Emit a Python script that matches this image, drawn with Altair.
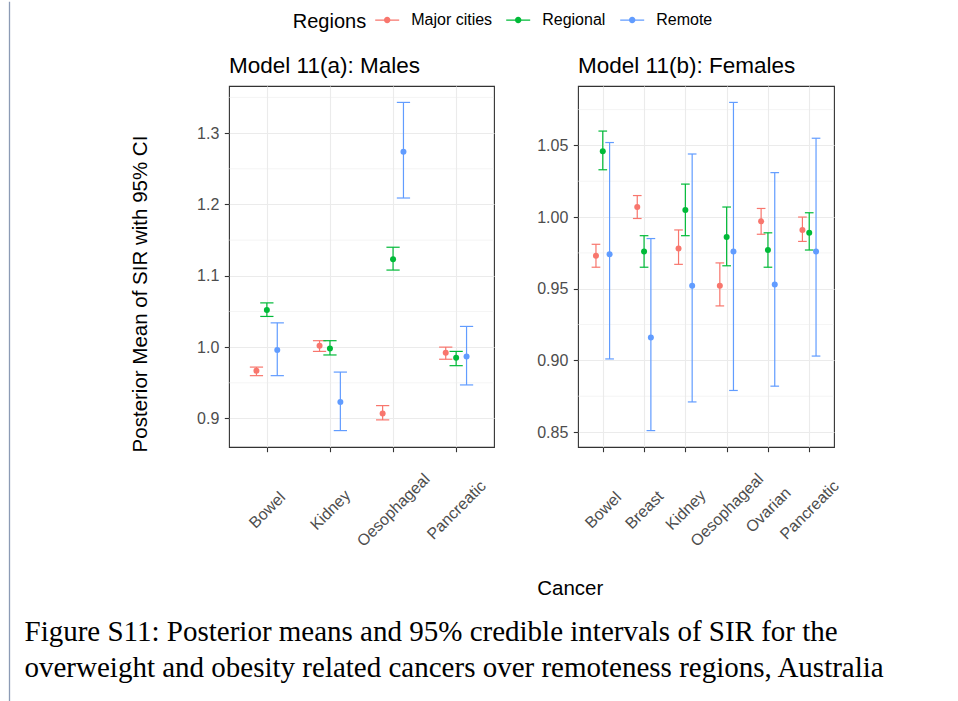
import altair as alt
import pandas as pd

# ---------------- data ----------------
regions = ["Major cities", "Regional", "Remote"]
region_colors = ["#F8766D", "#00BA38", "#619CFF"]

male_cancers = ["Bowel", "Kidney", "Oesophageal", "Pancreatic"]
male_mean = {
    "Major cities": [0.967, 1.002, 0.907, 0.992],
    "Regional": [1.052, 0.998, 1.123, 0.985],
    "Remote": [0.996, 0.923, 1.274, 0.987],
}
male_lower = {
    "Major cities": [0.960, 0.994, 0.898, 0.983],
    "Regional": [1.043, 0.989, 1.108, 0.974],
    "Remote": [0.960, 0.883, 1.209, 0.947],
}
male_upper = {
    "Major cities": [0.972, 1.009, 0.918, 1.000],
    "Regional": [1.062, 1.009, 1.140, 0.994],
    "Remote": [1.034, 0.965, 1.343, 1.029],
}

female_cancers = ["Bowel", "Breast", "Kidney", "Oesophageal", "Ovarian", "Pancreatic"]
female_mean = {
    "Major cities": [0.973, 1.007, 0.978, 0.952, 0.997, 0.991],
    "Regional": [1.046, 0.976, 1.005, 0.986, 0.977, 0.989],
    "Remote": [0.974, 0.916, 0.952, 0.976, 0.953, 0.976],
}
female_lower = {
    "Major cities": [0.965, 0.999, 0.967, 0.938, 0.988, 0.983],
    "Regional": [1.033, 0.965, 0.987, 0.966, 0.965, 0.977],
    "Remote": [0.901, 0.851, 0.871, 0.879, 0.882, 0.903],
}
female_upper = {
    "Major cities": [0.981, 1.015, 0.991, 0.968, 1.006, 1.000],
    "Regional": [1.060, 0.987, 1.023, 1.007, 0.989, 1.003],
    "Remote": [1.052, 0.985, 1.044, 1.080, 1.031, 1.055],
}

male_ticks = [0.9, 1.0, 1.1, 1.2, 1.3]
male_minor = [0.95, 1.05, 1.15, 1.25, 1.35]
female_ticks = [0.85, 0.90, 0.95, 1.00, 1.05]
female_minor = [0.875, 0.925, 0.975, 1.025, 1.075]

panel_titles = ["Model 11(a): Males", "Model 11(b): Females"]
legend_title = "Regions"
caption_lines = [
    "Figure S11: Posterior means and 95% credible intervals of SIR for the",
    "overweight and obesity related cancers over remoteness regions, Australia",
]

# ---------------- style ----------------
FONT = "Liberation Sans"
SERIF = "Liberation Serif"
DODGE = 0.165
CAP = 0.105
LEFT_X = 229.5
TOP_Y = 85
PANEL_H = 361

LEGEND_PATH = ("M-1,-0.06L1,-0.06L1,0.06L-1,0.06Z "
               "M-0.27,0A0.27,0.27,0,1,1,0.27,0A0.27,0.27,0,1,1,-0.27,0Z")


def make_df(cancers, mean, lower, upper):
    rows = []
    for ri, r in enumerate(regions):
        for ci, c in enumerate(cancers):
            rows.append({"cancer": c, "idx": ci + 1, "ri": ri, "region": r,
                         "mean": mean[r][ci], "lo": lower[r][ci], "hi": upper[r][ci]})
    return pd.DataFrame(rows)


color_enc = alt.Color(
    "region:N",
    scale=alt.Scale(domain=regions, range=region_colors),
    legend=alt.Legend(
        orient="none", legendX=375.7 - LEFT_X, legendY=-77.9, direction="horizontal",
        title=None,
        labelFont=FONT, labelFontSize=16, labelColor="black", labelOffset=12,
        symbolType=LEGEND_PATH, symbolSize=576, symbolStrokeWidth=0,
        symbolOpacity=1, columnPadding=14,
    ),
)


def text_layer(txt, x, y, font, size, align="left"):
    return alt.Chart(pd.DataFrame({"t": [txt]})).mark_text(
        align=align, baseline="alphabetic", font=font, fontSize=size, color="black",
    ).encode(text="t:N", x=alt.value(x), y=alt.value(y))


def panel(df, cancers, width, title, ticks, minor, fmt, left=False):
    n = len(cancers)
    lo, hi = df["lo"].min(), df["hi"].max()
    pad = 0.05 * (hi - lo)
    yscale = alt.Scale(domain=[lo - pad, hi + pad], nice=False, zero=False)
    xscale = alt.Scale(domain=[0.4, n + 0.6], nice=False, zero=False)
    label_expr = "[" + ",".join(f"'{c}'" for c in cancers) + "][datum.value - 1]"

    xaxis_kw = dict(
        values=list(range(1, n + 1)), labelExpr=label_expr, labelAngle=-45,
        labelAlign="center", labelBaseline="middle", labelPadding=58,
        labelFont=FONT, labelFontSize=16, labelColor="#4D4D4D",
        labelOverlap=False, labelFlush=False, labelBound=False,
        tickColor="#333333", tickSize=4.7, tickWidth=1.1, domain=False,
        grid=True, gridColor="#EBEBEB", gridWidth=1.1,
    )
    yaxis_kw = dict(
        values=ticks, format=fmt, labelPadding=5.5,
        labelFont=FONT, labelFontSize=16, labelColor="#4D4D4D",
        labelOverlap=False, labelFlush=False,
        tickColor="#333333", tickSize=4.7, tickWidth=1.1, domain=False,
        grid=True, gridColor="#EBEBEB", gridWidth=1.1,
    )
    if left:
        xaxis = alt.Axis(title="Cancer", titleFont=FONT, titleFontSize=20.5,
                         titleFontWeight="normal", titleColor="black",
                         titleX=570.3 - LEFT_X, titleY=593.3 - (TOP_Y + PANEL_H),
                         titleAlign="center", titleBaseline="alphabetic",
                         titleAngle=0, **xaxis_kw)
        yaxis = alt.Axis(title="Posterior Mean of SIR with 95% CI", titleFont=FONT,
                         titleFontSize=20.5, titleFontWeight="normal",
                         titleColor="black", titleAngle=270, titleAlign="center",
                         titleBaseline="alphabetic", titleX=-82.8,
                         titleY=292.5 - TOP_Y, **yaxis_kw)
    else:
        xaxis = alt.Axis(title=None, **xaxis_kw)
        yaxis = alt.Axis(title=None, **yaxis_kw)

    base = alt.Chart(df).transform_calculate(
        xp=f"datum.idx + (datum.ri - 1) * {DODGE}",
        xl=f"datum.idx + (datum.ri - 1) * {DODGE} - {CAP}",
        xr=f"datum.idx + (datum.ri - 1) * {DODGE} + {CAP}",
    )

    minor_grid = alt.Chart(pd.DataFrame({"v": minor})).mark_rule(
        color="#EBEBEB", strokeWidth=0.55
    ).encode(y=alt.Y("v:Q", scale=yscale, axis=yaxis))

    bars = base.mark_rule(strokeWidth=1.2).encode(
        x=alt.X("xp:Q", scale=xscale, axis=xaxis),
        y=alt.Y("lo:Q", scale=yscale, axis=yaxis),
        y2="hi:Q",
        color=color_enc,
    )
    cap_lo = base.mark_rule(strokeWidth=1.2).encode(
        x=alt.X("xl:Q", scale=xscale, axis=xaxis), x2="xr:Q",
        y=alt.Y("lo:Q", scale=yscale, axis=yaxis), color=color_enc,
    )
    cap_hi = base.mark_rule(strokeWidth=1.2).encode(
        x=alt.X("xl:Q", scale=xscale, axis=xaxis), x2="xr:Q",
        y=alt.Y("hi:Q", scale=yscale, axis=yaxis), color=color_enc,
    )
    points = base.mark_circle(size=36, opacity=1).encode(
        x=alt.X("xp:Q", scale=xscale, axis=xaxis),
        y=alt.Y("mean:Q", scale=yscale, axis=yaxis),
        color=color_enc,
    )

    layers = [minor_grid, bars, cap_lo, cap_hi, points,
              text_layer(title, 0, 71.7 - TOP_Y, FONT, 22.5)]

    if left:
        border = alt.Chart(pd.DataFrame({"a": [0]})).mark_rule(
            color="#8C9BB5", strokeWidth=1.3
        ).encode(x=alt.value(10 - LEFT_X), y=alt.value(-84.35), y2=alt.value(701 - TOP_Y))
        layers.append(border)
        layers.append(text_layer(legend_title, 293.3 - LEFT_X, 26.5 - TOP_Y, FONT, 20))
        for i, line in enumerate(caption_lines):
            layers.append(text_layer(line, 25 - LEFT_X, [640, 676][i] - TOP_Y, SERIF, 29))

    return alt.layer(*layers).properties(width=width, height=PANEL_H)


male_df = make_df(male_cancers, male_mean, male_lower, male_upper)
female_df = make_df(female_cancers, female_mean, female_lower, female_upper)

left_panel = panel(male_df, male_cancers, 265, panel_titles[0],
                   male_ticks, male_minor, ".1f", left=True)
right_panel = panel(female_df, female_cancers, 256, panel_titles[1],
                    female_ticks, female_minor, ".2f")

chart = alt.hconcat(left_panel, right_panel, spacing=84, bounds="flush").properties(
    padding={"left": 8, "top": 0, "right": 6, "bottom": 0},
    background="white",
).configure_view(stroke="#333333", strokeWidth=1.1, fill="white")

chart.save("out.html", embed_options={"renderer": "svg", "actions": False})
